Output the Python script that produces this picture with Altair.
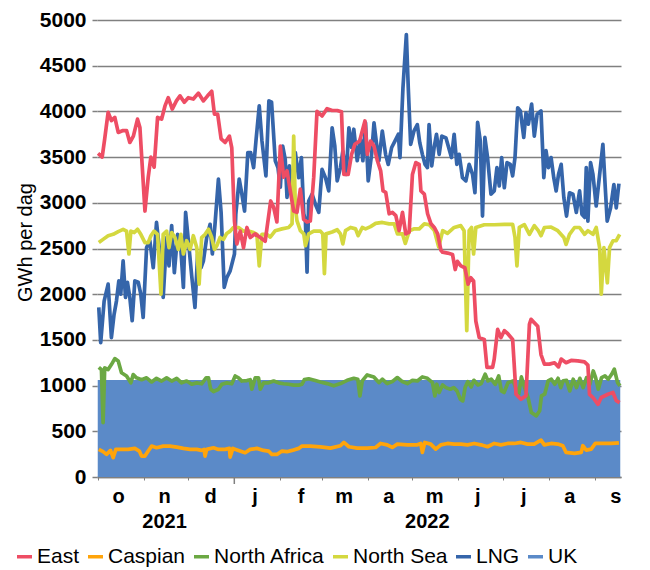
import altair as alt
import pandas as pd

SERIES = ["East", "Caspian", "North Africa", "North Sea", "LNG", "UK"]
COLORS = ["#EE4D64", "#FFA40A", "#6BA843", "#D4D83F", "#3565AA", "#5B8AC8"]

# day offsets from 1 Oct 2021 and values (GWh per dag)
east_days = [0.2, 3, 4.7, 7, 9.2, 11.5, 13.8, 17, 19.4, 21.6, 24, 26.8, 28.4, 31.8, 34, 35.8, 38, 40.3, 43, 45.3,
             47.5, 50.2, 53, 55.4, 58.3, 61, 64.4, 67.8, 71.2, 74, 76.8, 78.6, 80.8, 83.1, 85.8, 88.7, 90.3, 92.1,
             93.7, 96, 98.2, 100.5, 102.7, 106, 109.5, 112.8, 116.5, 118.5, 120.7, 123, 125.2, 127.5, 129.7, 132,
             134.2, 136.5, 138.7, 141, 143.2, 145.5, 147.7, 151.1, 154.5, 157.9, 161.3, 164.2, 165.8, 168.7, 171,
             173.2, 176.4, 178.2, 180, 181.6, 183.8, 186.1, 188.4, 190.6, 192.2, 194, 196.3, 198.5, 200.8, 203,
             205.3, 207.5, 209.8, 212, 214.3, 216.5, 217.7, 220, 222.2, 224.5, 226.7, 229, 231.2, 232.3, 235.7,
             239, 240.8, 242.3, 244.6, 247.3, 249.5, 251.3, 253.2, 254.7, 257, 260.4, 262.2, 266, 267.1, 269.4,
             271.6, 273.9, 276.1, 279.5, 281.8, 285.1, 288.5, 290.8, 291.9, 296.4, 298.6, 300.9, 304.3, 307.7,
             310.4, 312.2, 315.5, 318.9, 323.4, 327.9, 330.2, 331.3, 333.6, 337, 339.2, 343.7, 347.1, 349.3, 351.6]
east_vals = [3540, 3500, 3700, 3990, 3900, 3935, 3770, 3790, 3790, 3660, 3730, 3915, 3825, 2910, 3280, 3500, 3390,
             3935, 3915, 4060, 4150, 4025, 4115, 4170, 4100, 4150, 4135, 4200, 4115, 4170, 4220, 3970, 3970, 3700,
             3660, 3730, 3600, 2800, 2550, 2690, 2510, 2730, 2620, 2660, 2620, 2580, 3020, 2950, 2790, 3620, 3280,
             3350, 3130, 2910, 2895, 3150, 2820, 2790, 2800, 3280, 4000, 3950, 4030, 4010, 4010, 3995, 3310, 3310,
             3530, 3640, 3675, 3785, 3895, 3530, 3675, 3620, 3460, 3350, 3130, 3115, 2880, 2895, 2860, 2695, 2895,
             2660, 2680, 3310, 3440, 3420, 3130, 3095, 2880, 2770, 2730, 2660, 2480, 2460, 2450, 2435, 2270, 2360,
             2310, 2290, 2110, 2180, 2145, 1705, 1525, 1505, 1200, 1200, 1290, 1615, 1525, 1600, 1570, 1505, 905,
             850, 890, 1670, 1725, 1650, 1340, 1235, 1235, 1250, 1205, 1290, 1250, 1275, 1270, 1260, 1225, 905, 870,
             795, 870, 905, 925, 835, 815]

caspian_days = [0.7, 3.6, 5.9, 8.6, 10.4, 12.2, 16, 20.5, 25, 28, 29.5, 31.8, 34, 36.3, 39.6, 44.1, 48.6, 53.2,
                57.7, 62.2, 66.7, 70, 71.6, 72.3, 73.4, 78, 81.3, 85.8, 88.7, 89.2, 91, 94.8, 99.3, 102.7, 107.2,
                111.7, 115.1, 117.3, 120.7, 124.1, 127.5, 130.9, 135.4, 137.6, 143.2, 150, 156.8, 163.5, 165.8,
                169.2, 174.8, 181.5, 187.2, 190.5, 195, 198.4, 201.8, 208.6, 215.3, 217.6, 218.7, 220.3, 224.3,
                227.7, 231.1, 235.6, 240.1, 244.6, 249.1, 253.6, 258.1, 262.6, 267.1, 271.6, 276.1, 280.6, 285.1,
                289.5, 294, 298.6, 300.8, 305.4, 309.9, 313.3, 315.5, 321.2, 325.7, 326.8, 329.1, 332.4, 335.2,
                341.5, 346, 351.1]
caspian_vals = [302, 277, 247, 291, 211, 302, 302, 302, 313, 284, 229, 229, 284, 338, 320, 338, 338, 327, 313, 302,
                302, 291, 302, 229, 302, 320, 302, 302, 313, 218, 313, 291, 266, 302, 313, 291, 284, 247, 247, 284,
                277, 291, 313, 338, 338, 330, 316, 342, 378, 331, 316, 316, 323, 367, 352, 323, 360, 352, 352, 367,
                269, 378, 360, 305, 352, 367, 360, 360, 352, 367, 352, 331, 367, 352, 367, 367, 378, 360, 360, 403,
                352, 367, 360, 342, 269, 258, 269, 342, 294, 305, 367, 367, 367, 374]

nafrica_days = [0.7, 2.5, 3.6, 4.7, 7, 9.2, 11.5, 13.8, 16, 19.4, 22.3, 23.9, 26.1, 29.5, 32.9, 36.3, 39.6, 43,
                46.4, 49.8, 53.2, 56.5, 59.9, 63.3, 66.7, 70, 73, 74.6, 76.1, 78, 81.3, 83.6, 87, 90.3, 92.6, 94.8,
                97.1, 100.5, 102.7, 103.8, 106.1, 108.3, 109.5, 111.7, 115.1, 118.5, 121.8, 125.2, 128.6, 132,
                135.4, 137.6, 139.2, 142.1, 146.6, 150, 154.5, 159, 163.5, 168, 172.5, 175.2, 176.6, 178.2, 181.5,
                186, 189.4, 191.7, 195, 198.4, 201.8, 205.2, 208.6, 212, 215.3, 218.7, 222.1, 225.5, 227.1, 228.4,
                230, 232.3, 234.6, 237.5, 239.8, 242, 244.3, 245.9, 247.5, 249.3, 251.6, 253.4, 256.1, 258.3, 261,
                262.9, 265.1, 267.8, 270.1, 271.9, 273.7, 276.4, 279.8, 282, 283.6, 285.4, 287.6, 289.9, 292.1,
                295.5, 297.7, 298.9, 301.1, 303.4, 305.6, 307.9, 310.1, 311.9, 313.5, 315.8, 318, 320.3, 322.5,
                324.8, 327, 329.3, 331.5, 333.8, 335.4, 337.2, 339.4, 341.7, 343.9, 346.2, 348, 350.2, 351.8]
nafrica_vals = [1200, 1175, 595, 1195, 1175, 1230, 1295, 1270, 1140, 1105, 1030, 1120, 1085, 1065, 1085, 1040,
                1080, 1050, 1085, 1050, 1080, 1030, 1050, 1015, 1030, 1020, 1085, 1085, 960, 935, 960, 1015, 1030,
                1020, 1105, 1085, 1050, 1055, 1065, 960, 1085, 1085, 960, 1030, 1030, 1050, 1030, 1020, 1015, 1005,
                1005, 1015, 1065, 1075, 1055, 1040, 1022, 997, 1022, 1058, 1080, 1070, 887, 1051, 1117, 1095, 1033,
                1070, 1022, 1044, 1088, 1044, 1022, 1058, 1051, 1095, 1080, 1033, 887, 1015, 924, 1007, 978, 960,
                978, 942, 851, 833, 978, 1044, 986, 1058, 1007, 1022, 1124, 1051, 1070, 1015, 1106, 942, 924, 1033,
                1051, 960, 906, 1095, 978, 869, 705, 669, 724, 887, 906, 1051, 1070, 1015, 1080, 978, 1051, 1058,
                942, 1070, 978, 1080, 978, 1088, 1015, 1160, 1088, 960, 1088, 1106, 1070, 1124, 1179, 1033, 997]

nsea_days = [0.7, 3.6, 7, 10.4, 13.8, 17.1, 19.4, 21, 22.3, 24.6, 26.8, 29, 31.8, 34, 35.8, 38, 40.3, 42.6, 44.1,
             46.4, 48, 49.8, 52, 54.3, 56, 57.7, 59.9, 62.2, 64.4, 66.7, 68.3, 70, 72.3, 74.6, 76.8, 78.6, 80.2,
             82.4, 84.7, 86.9, 89.2, 91.4, 94.8, 98.2, 101.6, 105, 107.2, 108.8, 110.6, 114, 116.2, 119.6, 124.1,
             128.6, 130.9, 132, 133.1, 134.2, 136.5, 138.8, 139.9, 142.1, 145.5, 150, 151.6, 152.7, 153.8, 157.9,
             161.3, 163.5, 165.1, 166.9, 170.3, 173.7, 175.4, 178.2, 180.4, 183.8, 187.2, 191.7, 196.3, 199.7,
             201.9, 205.3, 207.2, 209.9, 213.3, 216.6, 220, 223.4, 226.8, 229.7, 232.4, 235.6, 240.1, 244.6, 246.8,
             248.6, 250.2, 251.8, 253.2, 254.7, 260.4, 267.1, 273.9, 279.5, 281.1, 282.4, 284, 287.4, 290.8, 294.1,
             296.8, 298.6, 300.9, 305.4, 309.9, 314, 315.5, 317.8, 321.2, 324.6, 328, 330.2, 333.6, 335.8, 338.1,
             339.2, 341, 343.3, 344.8, 347.1, 349.3, 351.6]
nsea_vals = [2565, 2600, 2640, 2655, 2685, 2710, 2690, 2440, 2690, 2675, 2710, 2655, 2565, 2565, 2640, 2690, 2655,
             2000, 2655, 2690, 2510, 2675, 2620, 2490, 2655, 2440, 2585, 2490, 2640, 2510, 2110, 2620, 2655, 2710,
             2620, 2490, 2530, 2620, 2600, 2665, 2690, 2730, 2730, 2690, 2690, 2675, 2655, 2310, 2655, 2655, 2625,
             2695, 2715, 2730, 2770, 3730, 2950, 2805, 2695, 2660, 2530, 2660, 2690, 2690, 2660, 2225, 2660, 2680,
             2705, 2660, 2550, 2695, 2730, 2715, 2640, 2730, 2715, 2740, 2775, 2785, 2770, 2770, 2660, 2660, 2555,
             2695, 2715, 2715, 2770, 2760, 2695, 2515, 2695, 2665, 2730, 2750, 2695, 1600, 2695, 2730, 2440, 2730,
             2760, 2760, 2765, 2765, 2620, 2310, 2730, 2760, 2655, 2750, 2695, 2640, 2730, 2735, 2695, 2620, 2545,
             2655, 2730, 2730, 2655, 2695, 2655, 2730, 2510, 2000, 2510, 2125, 2510, 2585, 2585, 2655]

lng_days = [0.7, 2, 4.3, 7, 9.2, 11, 12.6, 14.2, 15.5, 17.1, 18.7, 20, 21.6, 23.2, 25, 27.3, 29, 30.6, 32.9, 35.1,
            37.4, 39.6, 41.9, 44.1, 46.4, 48, 49.8, 51.6, 53.8, 56, 57.7, 59.2, 61.5, 63.3, 65.5, 67.3, 69.6, 71.2,
            73.4, 75.7, 77.2, 79, 81.3, 83.1, 85.2, 86.9, 89.2, 92.1, 93, 95.3, 97.1, 98.9, 101.1, 103, 105, 106.6,
            108.8, 110.6, 113.3, 115.3, 117.1, 119.6, 121.4, 123, 124.6, 126.3, 127.5, 129.1, 130.9, 133.1, 135.4,
            137.2, 138.8, 139.9, 141, 142.1, 144.4, 146.6, 148.9, 151.1, 153.4, 155.6, 157.9, 159.7, 161.3, 163.5,
            165.1, 167.4, 169.2, 171, 172.5, 174.8, 177, 178.6, 180.4, 182.2, 184.5, 186.1, 187.6, 189.4, 191.7,
            193.9, 195.7, 198, 200.2, 202.5, 203.6, 205.6, 207.9, 209.2, 210.8, 213, 215.3, 216.9, 218.7, 220.5,
            222.1, 223.2, 225, 226.6, 228.2, 230, 231.8, 234.6, 238.3, 240.1, 241.9, 243.5, 245.7, 248, 250.2,
            252.5, 254.1, 255.9, 257.7, 259.2, 260.8, 262.6, 264.9, 267.1, 268.9, 270.5, 272.1, 273.9, 275.7,
            277.9, 279.5, 281.1, 282.9, 284.7, 287, 288.5, 290.1, 292.3, 294.1, 296, 298.6, 300.5, 302, 303.6,
            305.4, 307.2, 308.8, 310.4, 312.2, 314, 315.8, 317.8, 320.1, 322.4, 324.6, 326.2, 328, 329.1, 330.2,
            332, 333.6, 335.8, 338.1, 340.3, 341.9, 343.2, 345.5, 347.7, 349.3, 351.1]
lng_vals = [1855, 1470, 1925, 2110, 1525, 1780, 1925, 2145, 2000, 2365, 1965, 2130, 1965, 1710, 2145, 2130, 2000,
            1745, 2510, 2585, 2290, 2785, 2440, 1965, 2620, 2310, 2750, 2235, 2655, 2490, 2075, 2895, 2510, 2200,
            1855, 2440, 2290, 2365, 2620, 2765, 2440, 2765, 3260, 2895, 2075, 2180, 2255, 2440, 2875, 3260, 3095,
            2910, 3550, 3550, 3385, 3680, 4060, 3680, 3295, 4115, 4100, 3460, 3385, 3170, 3620, 3475, 3060, 3405,
            3170, 3550, 3275, 3495, 2880, 2805, 2240, 3020, 3095, 2985, 2895, 3365, 3275, 3130, 3820, 3620, 3240,
            3385, 3565, 3310, 3820, 3605, 3805, 3460, 3695, 3460, 3875, 3240, 3530, 3875, 3675, 3460, 3785, 3530,
            3420, 3605, 3675, 3750, 3495, 4255, 4840, 4255, 3640, 3785, 3855, 3660, 3530, 3420, 3385, 3855, 3405,
            3605, 3750, 3530, 3730, 3710, 3495, 3750, 3420, 3530, 3275, 3240, 3420, 3310, 3110, 3880, 3680, 2855,
            3715, 3495, 3095, 3130, 3385, 3185, 3495, 3165, 3440, 3420, 3295, 3495, 4040, 4005, 3715, 3985, 3860,
            4080, 3730, 3970, 4005, 3275, 3570, 3385, 3495, 3275, 3130, 3310, 3420, 3055, 2855, 3110, 3095, 2895,
            3130, 2875, 2840, 3385, 2800, 3440, 3310, 2965, 3310, 3640, 3165, 2800, 2945, 3200, 2945, 3210]

uk_days = [0, 352]
uk_vals = [1060, 1060]

month_labels = ["o", "n", "d", "j", "f", "m", "a", "m", "j", "j", "a", "s"]
month_label_dates = ["2021-10-15T00:00:00", "2021-11-15T00:00:00", "2021-12-16T00:00:00", "2022-01-15T00:00:00",
                     "2022-02-15T00:00:00", "2022-03-16T00:00:00", "2022-04-15T00:00:00", "2022-05-16T00:00:00",
                     "2022-06-14T00:00:00", "2022-07-15T00:00:00", "2022-08-15T00:00:00", "2022-09-15T00:00:00"]
year_labels = ["2021", "2022"]
year_label_dates = ["2021-11-15T00:00:00", "2022-05-11T00:00:00"]
y_ticks = [0, 500, 1000, 1500, 2000, 2500, 3000, 3500, 4000, 4500, 5000]

BASE = pd.Timestamp("2021-10-01")


def frame(name, days, vals):
    return pd.DataFrame({"date": BASE + pd.to_timedelta(days, unit="D"), "value": vals, "series": name})


W, H = 524, 457
FONT = "Liberation Sans"
GRID = "#808080"

x_scale = alt.Scale(domain=[alt.DateTime(year=2021, month=9, date=30, hours=12),
                            alt.DateTime(year=2022, month=9, date=18, hours=12)])
y_scale = alt.Scale(domain=[0, 5000], nice=False, zero=True)
color_scale = alt.Scale(domain=SERIES, range=COLORS)

month_starts = [alt.DateTime(year=2021, month=m, date=1) for m in (10, 11, 12)] + \
               [alt.DateTime(year=2022, month=m, date=1) for m in range(1, 10)]


def x_axis():
    return alt.Axis(values=month_starts, labels=False, title=None, grid=False, tickSize=3, tickColor=GRID,
                    domainColor=GRID, domainWidth=1.5)


def y_axis():
    return alt.Axis(values=y_ticks, format="d", title="GWh per dag", grid=True, gridColor=GRID, gridWidth=1.5,
                    tickColor=GRID, tickSize=5, tickWidth=1.5, domain=False, labelFont=FONT, labelFontSize=21,
                    labelFontWeight="bold", labelColor="black", labelPadding=6, titleFont=FONT,
                    titleFontSize=20, titleFontWeight="normal", titleColor="black", titleAngle=270,
                    titleX=-72, titleY=222, titleAlign="center", titleBaseline="middle")


uk_df = frame("UK", uk_days, uk_vals)
area = alt.Chart(uk_df).mark_area(color=COLORS[5], opacity=1).encode(
    x=alt.X("date:T", scale=x_scale, axis=x_axis()),
    y=alt.Y("value:Q", scale=y_scale, axis=y_axis(), stack=None),
)

legend = alt.Legend(orient="none", legendX=-83, legendY=526, direction="horizontal", title=None,
                    labelFont=FONT, labelFontSize=21, labelColor="black", symbolType="stroke",
                    symbolSize=225, symbolStrokeWidth=3.5, labelOffset=2, columnPadding=1, padding=0)

series_data = {
    "East": (east_days, east_vals),
    "Caspian": (caspian_days, caspian_vals),
    "North Africa": (nafrica_days, nafrica_vals),
    "North Sea": (nsea_days, nsea_vals),
    "LNG": (lng_days, lng_vals),
}

lines = []
for i, name in enumerate(["LNG", "North Sea", "North Africa", "Caspian", "East"]):
    d, v = series_data[name]
    lines.append(
        alt.Chart(frame(name, d, v)).mark_line(strokeWidth=3.7, strokeJoin="round").encode(
            x=alt.X("date:T", scale=x_scale, axis=x_axis()),
            y=alt.Y("value:Q", scale=y_scale, axis=y_axis()),
            color=alt.Color("series:N", scale=color_scale, legend=legend if i == 0 else None),
        )
    )

month_df = pd.DataFrame({"date": pd.to_datetime(month_label_dates), "label": month_labels})
month_text = alt.Chart(month_df).mark_text(font=FONT, fontSize=20, fontWeight="bold", color="black",
                                           baseline="middle", align="center").encode(
    x=alt.X("date:T", scale=x_scale, axis=x_axis()), y=alt.value(H + 20), text="label:N")

year_df = pd.DataFrame({"date": pd.to_datetime(year_label_dates), "label": year_labels})
year_text = alt.Chart(year_df).mark_text(font=FONT, fontSize=20, fontWeight="bold", color="black",
                                         baseline="middle", align="center").encode(
    x=alt.X("date:T", scale=x_scale, axis=x_axis()), y=alt.value(H + 45), text="label:N")

jan_df = pd.DataFrame({"date": pd.to_datetime(["2022-01-01T00:00:00"])})
jan_tick = alt.Chart(jan_df).mark_rule(color=GRID, strokeWidth=1.5).encode(
    x=alt.X("date:T", scale=x_scale, axis=x_axis()), y=alt.value(H), y2=alt.value(H + 7))

chart = alt.layer(area, *lines, month_text, year_text, jan_tick).properties(
    width=W, height=H,
    padding={"left": 89, "top": 12, "right": 17, "bottom": 93},
    autosize=alt.AutoSizeParams(type="none"),
    background="white",
).configure_view(stroke=None)

chart.save("out.html", embed_options={"renderer": "svg", "actions": False})
